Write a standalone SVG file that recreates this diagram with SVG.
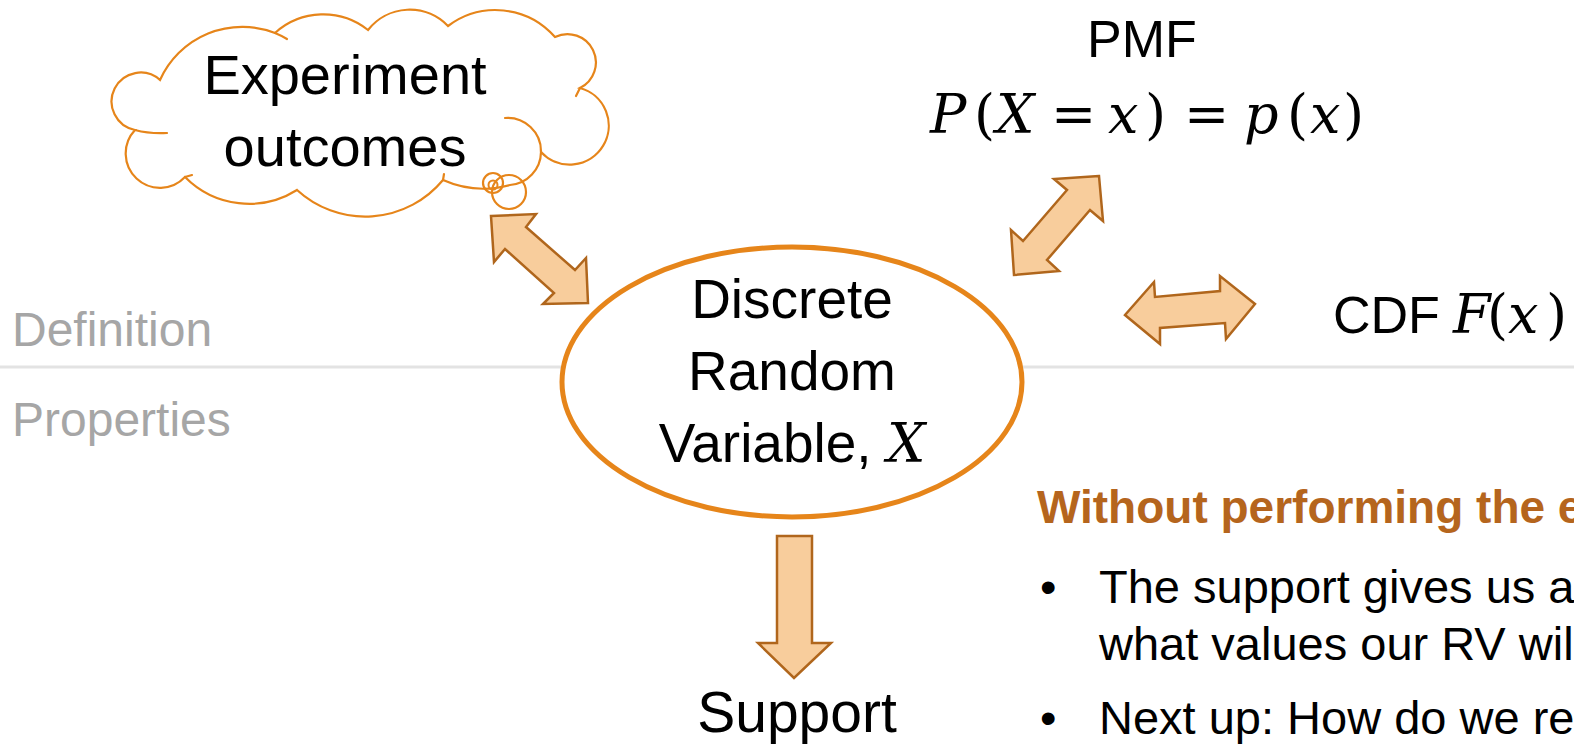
<svg xmlns="http://www.w3.org/2000/svg" width="1574" height="745" viewBox="0 0 1574 745">
<style>
.t{font-family:"Liberation Sans",Arial,sans-serif;fill:#000}
.m{font-family:"DejaVu Serif","Liberation Serif",serif;fill:#000}
.mi{font-style:italic}
.lbl{font-family:"Liberation Sans",Arial,sans-serif;fill:#a6a6a6;font-size:48px}
.arrow{fill:#f8cd9c;stroke:#b0661c;stroke-width:2.5;stroke-linejoin:miter}
.cl{fill:none;stroke:#e6851a;stroke-width:2.2;stroke-linecap:round}
</style>
<rect width="1574" height="745" fill="#ffffff"/>
<g id="divider">
<line x1="0" y1="367" x2="1574" y2="367" stroke="#e3e3e3" stroke-width="3"/>
<text class="lbl" x="12" y="346">Definition</text>
<text class="lbl" x="12" y="436">Properties</text>
</g>
<g id="cloud">
<path d="M160,80 A90,90 0 0 1 275,33 A72,72 0 0 1 368,30 A53,53 0 0 1 448,26 A79,79 0 0 1 555,37 A28,28 0 0 1 580,88 A39,39 0 1 1 541,152 A33.5,33.5 0 0 1 510,185 A100,100 0 0 1 443,180 A101,101 0 0 1 297,190 A90,90 0 0 1 185,177 A34,34 0 0 1 135,130 A29,29 0 1 1 160,80 Z" fill="#ffffff" stroke="#e6851a" stroke-width="2.2"/>
<path class="cl" d="M505,118 A33.5,33.5 0 0 1 541,152"/>
<path class="cl" d="M275,33 A90,90 0 0 1 287,39"/>
<path class="cl" d="M135,130 Q150,134 167,133"/>
<path class="cl" d="M443,180 L444,174"/>
<path class="cl" d="M580,88 L576,96"/>
<path class="cl" d="M185,177 L192,175"/>
<circle cx="509" cy="192" r="17" fill="none" stroke="#e6851a" stroke-width="2.2"/>
<circle cx="493" cy="183" r="10" fill="none" stroke="#e6851a" stroke-width="2.2"/>
<circle cx="493" cy="185" r="4.5" fill="none" stroke="#e6851a" stroke-width="2"/>
<text class="t" font-size="56" text-anchor="middle" x="345" y="94">Experiment</text>
<text class="t" font-size="56" text-anchor="middle" x="345" y="166">outcomes</text>
</g>
<g id="connectors">
<polygon class="arrow" points="491,216 536,214 526,227 575,270 586,258 588,303 543,304 554,293 505,249 494,262"/>
<polygon class="arrow" points="1099,176 1054,179 1067,190 1023,241 1011,230 1014,275 1059,271 1047,260 1090,210 1103,221"/>
<polygon class="arrow" points="1125,315 1154,282 1155,297 1220,291 1220,276 1255,304 1226,339 1225,323 1160,328 1160,344"/>
<polygon class="arrow" points="777,536 812,536 812,643 831,643 794,678 758,643 777,643"/>
</g>
<g id="rv">
<ellipse cx="792" cy="382" rx="230" ry="135" fill="#ffffff" stroke="#e6851a" stroke-width="5"/>
<text class="t" font-size="55" text-anchor="middle" x="792" y="318">Discrete</text>
<text class="t" font-size="55" text-anchor="middle" x="792" y="390">Random</text>
<text class="t" font-size="55" text-anchor="middle" x="792" y="462">Variable, <tspan class="m mi" font-size="54">X</tspan></text>
</g>
<g id="pmf">
<text class="t" font-size="52" text-anchor="middle" x="1142" y="57">PMF</text>
<text class="m" font-size="54" y="133"><tspan class="mi" x="930">P</tspan><tspan x="974">(</tspan><tspan class="mi" x="996">X</tspan><tspan x="1051">=</tspan><tspan class="mi" x="1108">x</tspan><tspan x="1145">)</tspan><tspan x="1184">=</tspan><tspan class="mi" x="1244">p</tspan><tspan x="1287">(</tspan><tspan class="mi" x="1310">x</tspan><tspan x="1343">)</tspan></text>
</g>
<g id="cdf">
<text font-size="52" y="333"><tspan class="t" x="1333">CDF</tspan><tspan class="m mi" font-size="54" x="1453">F</tspan><tspan class="m" font-size="54" x="1487">(</tspan><tspan class="m mi" font-size="54" x="1508">x</tspan><tspan class="m" font-size="54" x="1546">)</tspan></text>
</g>
<g id="support">
<text class="t" font-size="57" text-anchor="middle" x="797" y="732">Support</text>
</g>
<g id="notes">
<text class="t" font-size="46" font-weight="bold" x="1037" y="523" style="fill:#b5651d">Without performing the e</text>
<text class="t" font-size="47" x="1040" y="603">•</text>
<text class="t" font-size="47" x="1099" y="603">The support gives us a</text>
<text class="t" font-size="47" x="1099" y="660">what values our RV wil</text>
<text class="t" font-size="47" x="1040" y="734">•</text>
<text class="t" font-size="47" x="1099" y="734">Next up: How do we re</text>
</g>
</svg>
